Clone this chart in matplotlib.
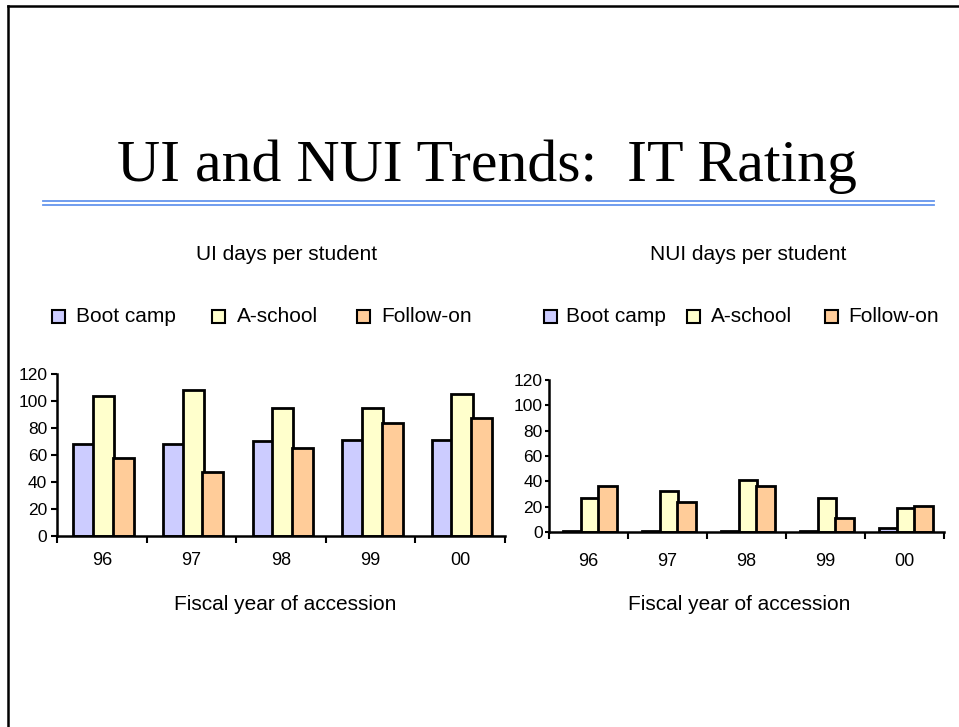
import matplotlib
matplotlib.use('Agg')
import matplotlib.pyplot as plt
import numpy as np
from matplotlib.patches import Rectangle
from matplotlib.lines import Line2D

# ---------------- data ----------------
years = ['96', '97', '98', '99', '00']
series = ['Boot camp', 'A-school', 'Follow-on']
ui_boot = [68, 68, 70, 71, 71]
ui_aschool = [104, 108, 95, 95, 105]
ui_follow = [58, 47, 65, 84, 87]
nui_boot = [1, 1, 1, 1, 3.5]
nui_aschool = [27, 32, 41, 27, 19]
nui_follow = [36, 24, 36, 11, 20.5]
yticks = [0, 20, 40, 60, 80, 100, 120]

title = 'UI and NUI Trends:  IT Rating'
subtitle_left = 'UI days per student'
subtitle_right = 'NUI days per student'
xlabel = 'Fiscal year of accession'

# ---------------- style ----------------
colors = ['#CCCCFF', '#FFFFCC', '#FFCC99']
plt.rcParams['font.family'] = ['Liberation Sans', 'DejaVu Sans']
W, H = 959, 727
fig = plt.figure(figsize=(W / 100, H / 100), dpi=100)


def rect(x0, y0, x1, y1):
    return [x0 / W, 1 - y1 / H, (x1 - x0) / W, (y1 - y0) / H]


def draw(ax, data, xpad, ypad, ytlen):
    x = np.arange(len(years))
    offs = [-0.20, 0.02, 0.24]
    for i, vals in enumerate(data):
        ax.bar(x + offs[i], vals, width=0.235, color=colors[i],
               edgecolor='black', linewidth=2.0, zorder=2)
    ax.set_xlim(-0.5, len(years) - 0.5)
    ax.set_ylim(0, 120)
    ax.set_yticks(yticks)
    ax.set_yticklabels([str(v) for v in yticks], fontsize=12.5)
    ax.set_xticks(x)
    ax.set_xticklabels(years, fontsize=13)
    ax.set_xticks(np.arange(-0.5, len(years), 1.0), minor=True)
    ax.tick_params(axis='x', which='major', length=0, pad=xpad)
    ax.tick_params(axis='x', which='minor', length=5, width=1.5, direction='out')
    ax.tick_params(axis='y', length=ytlen, width=1.5, direction='out', pad=ypad)
    for s in ['top', 'right']:
        ax.spines[s].set_visible(False)
    for s in ['left', 'bottom']:
        ax.spines[s].set_linewidth(1.8)
        ax.spines[s].set_color('black')
    ax.patch.set_alpha(0)


axL = fig.add_axes(rect(57, 374, 505, 535.7))
draw(axL, [ui_boot, ui_aschool, ui_follow], xpad=12, ypad=3, ytlen=4)
axR = fig.add_axes(rect(549, 380, 944, 532))
draw(axR, [nui_boot, nui_aschool, nui_follow], xpad=15, ypad=1.5, ytlen=3)

# slide border
fig.add_artist(Line2D([8 / W, 8 / W], [0, 1 - 6 / H], color='black', lw=1.8))
fig.add_artist(Line2D([8 / W, 1], [1 - 6 / H, 1 - 6 / H], color='black', lw=1.8))
# double blue rule
for yy in (201, 204.5):
    fig.add_artist(Line2D([43 / W, 934 / W], [1 - yy / H] * 2, color='#6495ED', lw=1.3))

fig.text(487 / W, 1 - 181 / H, title, family=['Liberation Serif'], fontsize=43,
         ha='center', va='baseline')

fig.text(287 / W, 1 - 255 / H, subtitle_left, fontsize=15, ha='center', va='center')
fig.text(748 / W, 1 - 255 / H, subtitle_right, fontsize=15, ha='center', va='center')
fig.text(285 / W, 1 - 604 / H, xlabel, fontsize=15, ha='center', va='center')
fig.text(739 / W, 1 - 604 / H, xlabel, fontsize=15, ha='center', va='center')

# legends
sq = 13
leg_y = 316
for sq_x, tx_x in [([52, 212, 356.5], [75.6, 237, 381]),
                   ([544, 687, 825], [565.5, 711, 848])]:
    for i, name in enumerate(series):
        fig.add_artist(Rectangle((sq_x[i] / W, 1 - (leg_y + sq / 2) / H), sq / W, sq / H,
                                 facecolor=colors[i], edgecolor='black', lw=1.5,
                                 transform=fig.transFigure))
        fig.text(tx_x[i] / W, 1 - leg_y / H, name, fontsize=15, ha='left', va='center')

fig.savefig('out.png', dpi=100)
